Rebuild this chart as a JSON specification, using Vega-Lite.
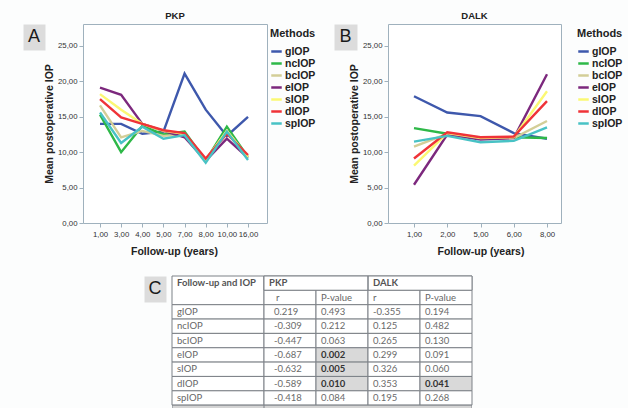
{
  "$schema": "https://vega.github.io/schema/vega-lite/v6.json",
  "background": "#fcfdfd",
  "padding": {"left": 22, "top": 10, "right": 0, "bottom": 0},
  "spacing": 16,
  "datasets": {
    "pkp": [
      {"year": 1, "method": "gIOP", "iop": 14.0}, {"year": 3, "method": "gIOP", "iop": 14.0}, {"year": 4, "method": "gIOP", "iop": 12.6}, {"year": 5, "method": "gIOP", "iop": 12.9}, {"year": 7, "method": "gIOP", "iop": 21.1}, {"year": 8, "method": "gIOP", "iop": 16.0}, {"year": 10, "method": "gIOP", "iop": 12.3}, {"year": 16, "method": "gIOP", "iop": 15.0},
      {"year": 1, "method": "ncIOP", "iop": 15.3}, {"year": 3, "method": "ncIOP", "iop": 10.0}, {"year": 4, "method": "ncIOP", "iop": 13.7}, {"year": 5, "method": "ncIOP", "iop": 12.5}, {"year": 7, "method": "ncIOP", "iop": 12.9}, {"year": 8, "method": "ncIOP", "iop": 8.8}, {"year": 10, "method": "ncIOP", "iop": 13.6}, {"year": 16, "method": "ncIOP", "iop": 9.3},
      {"year": 1, "method": "bcIOP", "iop": 16.6}, {"year": 3, "method": "bcIOP", "iop": 12.1}, {"year": 4, "method": "bcIOP", "iop": 13.0}, {"year": 5, "method": "bcIOP", "iop": 12.3}, {"year": 7, "method": "bcIOP", "iop": 12.5}, {"year": 8, "method": "bcIOP", "iop": 8.9}, {"year": 10, "method": "bcIOP", "iop": 13.0}, {"year": 16, "method": "bcIOP", "iop": 9.3},
      {"year": 1, "method": "eIOP", "iop": 19.1}, {"year": 3, "method": "eIOP", "iop": 18.1}, {"year": 4, "method": "eIOP", "iop": 14.0}, {"year": 5, "method": "eIOP", "iop": 13.0}, {"year": 7, "method": "eIOP", "iop": 12.1}, {"year": 8, "method": "eIOP", "iop": 8.8}, {"year": 10, "method": "eIOP", "iop": 11.9}, {"year": 16, "method": "eIOP", "iop": 9.2},
      {"year": 1, "method": "sIOP", "iop": 18.2}, {"year": 3, "method": "sIOP", "iop": 16.0}, {"year": 4, "method": "sIOP", "iop": 14.0}, {"year": 5, "method": "sIOP", "iop": 13.0}, {"year": 7, "method": "sIOP", "iop": 12.6}, {"year": 8, "method": "sIOP", "iop": 8.9}, {"year": 10, "method": "sIOP", "iop": 13.0}, {"year": 16, "method": "sIOP", "iop": 9.3},
      {"year": 1, "method": "dIOP", "iop": 17.5}, {"year": 3, "method": "dIOP", "iop": 14.9}, {"year": 4, "method": "dIOP", "iop": 14.0}, {"year": 5, "method": "dIOP", "iop": 13.1}, {"year": 7, "method": "dIOP", "iop": 12.7}, {"year": 8, "method": "dIOP", "iop": 9.1}, {"year": 10, "method": "dIOP", "iop": 12.6}, {"year": 16, "method": "dIOP", "iop": 9.6},
      {"year": 1, "method": "spIOP", "iop": 15.6}, {"year": 3, "method": "spIOP", "iop": 11.3}, {"year": 4, "method": "spIOP", "iop": 13.6}, {"year": 5, "method": "spIOP", "iop": 11.9}, {"year": 7, "method": "spIOP", "iop": 12.4}, {"year": 8, "method": "spIOP", "iop": 8.5}, {"year": 10, "method": "spIOP", "iop": 12.9}, {"year": 16, "method": "spIOP", "iop": 8.9}
    ],
    "dalk": [
      {"year": 1, "method": "gIOP", "iop": 17.9}, {"year": 2, "method": "gIOP", "iop": 15.6}, {"year": 5, "method": "gIOP", "iop": 15.1}, {"year": 6, "method": "gIOP", "iop": 12.7}, {"year": 8, "method": "gIOP", "iop": 11.9},
      {"year": 1, "method": "ncIOP", "iop": 13.4}, {"year": 2, "method": "ncIOP", "iop": 12.6}, {"year": 5, "method": "ncIOP", "iop": 12.0}, {"year": 6, "method": "ncIOP", "iop": 12.1}, {"year": 8, "method": "ncIOP", "iop": 12.0},
      {"year": 1, "method": "bcIOP", "iop": 10.8}, {"year": 2, "method": "bcIOP", "iop": 12.6}, {"year": 5, "method": "bcIOP", "iop": 11.9}, {"year": 6, "method": "bcIOP", "iop": 12.0}, {"year": 8, "method": "bcIOP", "iop": 14.4},
      {"year": 1, "method": "eIOP", "iop": 5.4}, {"year": 2, "method": "eIOP", "iop": 12.5}, {"year": 5, "method": "eIOP", "iop": 11.8}, {"year": 6, "method": "eIOP", "iop": 12.0}, {"year": 8, "method": "eIOP", "iop": 21.0},
      {"year": 1, "method": "sIOP", "iop": 8.1}, {"year": 2, "method": "sIOP", "iop": 12.7}, {"year": 5, "method": "sIOP", "iop": 12.0}, {"year": 6, "method": "sIOP", "iop": 12.1}, {"year": 8, "method": "sIOP", "iop": 18.6},
      {"year": 1, "method": "dIOP", "iop": 9.1}, {"year": 2, "method": "dIOP", "iop": 12.8}, {"year": 5, "method": "dIOP", "iop": 12.1}, {"year": 6, "method": "dIOP", "iop": 12.2}, {"year": 8, "method": "dIOP", "iop": 17.2},
      {"year": 1, "method": "spIOP", "iop": 11.5}, {"year": 2, "method": "spIOP", "iop": 12.3}, {"year": 5, "method": "spIOP", "iop": 11.4}, {"year": 6, "method": "spIOP", "iop": 11.6}, {"year": 8, "method": "spIOP", "iop": 13.5}
    ],
    "table": [
      {"method": "gIOP", "pkp_r": 0.219, "pkp_p": 0.493, "dalk_r": -0.355, "dalk_p": 0.194},
      {"method": "ncIOP", "pkp_r": -0.309, "pkp_p": 0.212, "dalk_r": 0.125, "dalk_p": 0.482},
      {"method": "bcIOP", "pkp_r": -0.447, "pkp_p": 0.063, "dalk_r": 0.265, "dalk_p": 0.130},
      {"method": "eIOP", "pkp_r": -0.687, "pkp_p": 0.002, "dalk_r": 0.299, "dalk_p": 0.091},
      {"method": "sIOP", "pkp_r": -0.632, "pkp_p": 0.005, "dalk_r": 0.326, "dalk_p": 0.060},
      {"method": "dIOP", "pkp_r": -0.589, "pkp_p": 0.010, "dalk_r": 0.353, "dalk_p": 0.041},
      {"method": "spIOP", "pkp_r": -0.418, "pkp_p": 0.084, "dalk_r": 0.195, "dalk_p": 0.268}
    ],
    "hdr": [
      {"method": "h1", "key": "pkp_r", "label": "PKP"},
      {"method": "h1", "key": "dalk_r", "label": "DALK"},
      {"method": "h2", "key": "pkp_r", "label": "r"},
      {"method": "h2", "key": "pkp_p", "label": "P-value"},
      {"method": "h2", "key": "dalk_r", "label": "r"},
      {"method": "h2", "key": "dalk_p", "label": "P-value"}
    ]
  },
  "config": {
    "font": "Liberation Sans",
    "locale": {"number": {"decimal": ".", "thousands": ",", "grouping": [3], "currency": ["", ""], "minus": "-"}},
    "axis": {"labelFont": "Liberation Sans", "labelFontSize": 7.8, "labelColor": "#333333", "titleFont": "Liberation Sans", "titleFontSize": 10.5, "titleFontWeight": "bold", "titleColor": "#222222", "tickColor": "#9fb1bd", "tickSize": 4, "domain": false, "grid": false, "labelPadding": 2},
    "legend": {"titleFont": "Liberation Sans", "titleFontSize": 11, "titleFontWeight": "bold", "titleColor": "#222222", "labelFont": "Liberation Sans", "labelFontSize": 10.5, "labelFontWeight": "bold", "labelColor": "#222222", "symbolType": "stroke", "symbolStrokeWidth": 2.5, "symbolSize": 110, "rowPadding": -1.8, "labelOffset": 2, "titlePadding": 6, "padding": 4, "offset": 0},
    "title": {"font": "Liberation Sans", "fontSize": 9.5, "fontWeight": "bold", "color": "#222222", "offset": 4}
  },
  "vconcat": [
    {
      "hconcat": [
        {"width": 22, "height": 26, "view": {"fill": "#dcdcdc", "stroke": "transparent"}, "data": {"values": [{"panel": "A"}]}, "mark": {"type": "text", "fontSize": 18, "font": "Liberation Sans", "color": "#1a1a1a", "baseline": "middle", "align": "center"}, "encoding": {"text": {"field": "panel"}}},
        {"width": 38, "height": 10, "view": {"stroke": "transparent"}, "data": {"values": [{}]}, "mark": {"type": "text"}, "encoding": {}},
        {
          "width": 184, "height": 199,
          "title": {"text": "PKP"},
          "view": {"stroke": "#9fb1bd", "fill": "#ffffff"},
          "data": {"name": "pkp"},
          "mark": {"type": "line", "strokeWidth": 2.4},
          "encoding": {
            "x": {"field": "year", "type": "ordinal", "scale": {"type": "point", "range": [17, 165], "padding": 0}, "axis": {"title": "Follow-up (years)", "labelAngle": 0, "labelPadding": 3, "labelExpr": "replace(format(datum.value, '.2f'), '.', ',')", "titlePadding": 9}},
            "y": {"field": "iop", "type": "quantitative", "scale": {"domain": [0, 28.1], "nice": false}, "axis": {"title": "Mean postoperative IOP", "values": [0, 5, 10, 15, 20, 25], "labelExpr": "replace(format(datum.value, '.2f'), '.', ',')", "titlePadding": 3}},
            "color": {"field": "method", "type": "nominal", "scale": {"domain": ["gIOP", "ncIOP", "bcIOP", "eIOP", "sIOP", "dIOP", "spIOP"], "range": ["#3e58ac", "#2eb848", "#d3ce97", "#7c287d", "#fbf873", "#ef3338", "#48c2c5"]}, "legend": {"title": "Methods", "offset": -1}}
          }
        },
        {"width": 67, "height": 10, "view": {"stroke": "transparent"}, "data": {"values": [{}]}, "mark": {"type": "text"}, "encoding": {}},
        {"width": 23, "height": 26, "view": {"fill": "#dcdcdc", "stroke": "transparent"}, "data": {"values": [{"panel": "B"}]}, "mark": {"type": "text", "fontSize": 18, "font": "Liberation Sans", "color": "#1a1a1a", "baseline": "middle", "align": "center"}, "encoding": {"text": {"field": "panel"}}},
        {"width": 31, "height": 10, "view": {"stroke": "transparent"}, "data": {"values": [{}]}, "mark": {"type": "text"}, "encoding": {}},
        {
          "width": 173, "height": 199,
          "title": {"text": "DALK"},
          "view": {"stroke": "#9fb1bd", "fill": "#ffffff"},
          "data": {"name": "dalk"},
          "mark": {"type": "line", "strokeWidth": 2.4},
          "encoding": {
            "x": {"field": "year", "type": "ordinal", "scale": {"type": "point", "range": [26, 159], "padding": 0}, "axis": {"title": "Follow-up (years)", "labelAngle": 0, "labelPadding": 3, "labelExpr": "replace(format(datum.value, '.2f'), '.', ',')", "titlePadding": 9}},
            "y": {"field": "iop", "type": "quantitative", "scale": {"domain": [0, 28.1], "nice": false}, "axis": {"title": "Mean postoperative IOP", "values": [0, 5, 10, 15, 20, 25], "labelExpr": "replace(format(datum.value, '.2f'), '.', ',')", "titlePadding": 3}},
            "color": {"field": "method", "type": "nominal", "scale": {"domain": ["gIOP", "ncIOP", "bcIOP", "eIOP", "sIOP", "dIOP", "spIOP"], "range": ["#3e58ac", "#2eb848", "#d3ce97", "#7c287d", "#fbf873", "#ef3338", "#48c2c5"]}, "legend": {"title": "Methods", "offset": 12}}
          }
        }
      ],
      "spacing": 0,
      "bounds": "flush",
      "resolve": {"scale": {"x": "independent", "y": "independent", "color": "independent"}, "legend": {"color": "independent"}, "axis": {"x": "independent", "y": "independent"}}
    },
    {
      "hconcat": [
        {"width": 121, "height": 10, "view": {"stroke": "transparent"}, "data": {"values": [{}]}, "mark": {"type": "text"}, "encoding": {}},
        {"width": 22, "height": 26, "view": {"fill": "#dcdcdc", "stroke": "transparent"}, "data": {"values": [{"panel": "C"}]}, "mark": {"type": "text", "fontSize": 18, "font": "Liberation Sans", "color": "#1a1a1a", "baseline": "middle", "align": "center"}, "encoding": {"text": {"field": "panel"}}},
        {"width": 6, "height": 10, "view": {"stroke": "transparent"}, "data": {"values": [{}]}, "mark": {"type": "text"}, "encoding": {}},
        {
          "width": 92, "height": 134,
          "view": {"stroke": "transparent"},
          "layer": [
            {"data": {"values": [{"method": "h1", "end": "gIOP"}]}, "mark": {"type": "rect", "fill": "#ffffff", "stroke": "#7d8187", "strokeWidth": 1},
             "encoding": {"y": {"field": "method", "type": "nominal", "axis": null, "bandPosition": 0, "scale": {"type": "band", "domain": ["h1", "h2", "gIOP", "ncIOP", "bcIOP", "eIOP", "sIOP", "dIOP", "spIOP", "next"], "range": [0, 143.5], "paddingInner": 0, "paddingOuter": 0}}, "y2": {"field": "end", "bandPosition": 0}}},
            {"data": {"name": "table"}, "mark": {"type": "rect", "fill": "#ffffff", "stroke": "#7d8187", "strokeWidth": 1},
             "encoding": {"y": {"field": "method", "type": "nominal", "axis": null}}},
            {"data": {"values": [{"method": "next"}]}, "mark": {"type": "rect", "fill": "#d4d4d4", "stroke": "#7d8187", "strokeWidth": 1, "clip": true},
             "encoding": {"y": {"field": "method", "type": "nominal", "axis": null}}},
            {"data": {"values": [{"method": "h1", "label": "Follow-up and IOP"}]}, "mark": {"type": "text", "align": "left", "baseline": "middle", "dx": -41, "font": "Lato", "fontSize": 9.5, "fontWeight": "bold", "color": "#555555"},
             "encoding": {"y": {"field": "method", "type": "nominal", "axis": null}, "text": {"field": "label"}}},
            {"data": {"name": "table"}, "mark": {"type": "text", "align": "left", "baseline": "middle", "dx": -41, "font": "Lato", "fontSize": 9.5, "color": "#666666"},
             "encoding": {"y": {"field": "method", "type": "nominal", "axis": null}, "text": {"field": "method"}}}
          ]
        },
        {
          "width": 208, "height": 134,
          "view": {"stroke": "transparent"},
          "layer": [
            {"data": {"name": "hdr"}, "transform": [{"filter": "datum.method == 'h1'"}], "mark": {"type": "rect", "fill": "#ffffff", "stroke": "#7d8187", "strokeWidth": 1},
             "encoding": {"y": {"field": "method", "type": "nominal", "axis": null, "scale": {"type": "band", "domain": ["h1", "h2", "gIOP", "ncIOP", "bcIOP", "eIOP", "sIOP", "dIOP", "spIOP", "next"], "range": [0, 143.5], "paddingInner": 0, "paddingOuter": 0}}}},
            {"data": {"name": "hdr"}, "transform": [{"filter": "datum.label == 'DALK'"}], "mark": {"type": "rect", "fill": "#ffffff", "stroke": "#7d8187", "strokeWidth": 1},
             "encoding": {"x": {"field": "key", "type": "nominal", "axis": null, "bandPosition": 0, "scale": {"type": "band", "domain": ["pkp_r", "pkp_p", "dalk_r", "dalk_p"], "paddingInner": 0, "paddingOuter": 0}}, "x2": {"field": "key", "bandPosition": 0}, "y": {"field": "method", "type": "nominal", "axis": null}}},
            {"data": {"name": "hdr"}, "transform": [{"filter": "datum.method == 'h2'"}], "mark": {"type": "rect", "fill": "#ffffff", "stroke": "#7d8187", "strokeWidth": 1},
             "encoding": {"x": {"field": "key", "type": "nominal", "axis": null}, "y": {"field": "method", "type": "nominal", "axis": null}}},
            {"data": {"name": "table"}, "transform": [{"fold": ["pkp_r", "pkp_p", "dalk_r", "dalk_p"]}], "mark": {"type": "rect", "stroke": "#7d8187", "strokeWidth": 1},
             "encoding": {"x": {"field": "key", "type": "nominal", "axis": null}, "y": {"field": "method", "type": "nominal", "axis": null},
               "fill": {"condition": {"test": "(datum.key == 'pkp_p' || datum.key == 'dalk_p') && datum.value < 0.05", "value": "#d9d9d9"}, "value": "#ffffff"}}},
            {"data": {"values": [{"method": "next"}]}, "mark": {"type": "rect", "fill": "#d4d4d4", "stroke": "#7d8187", "strokeWidth": 1, "clip": true},
             "encoding": {"y": {"field": "method", "type": "nominal", "axis": null}}},
            {"data": {"name": "hdr"}, "transform": [{"filter": "datum.method == 'h1'"}], "mark": {"type": "text", "align": "left", "baseline": "middle", "dx": 5, "font": "Lato", "fontSize": 9.5, "fontWeight": "bold", "color": "#555555"},
             "encoding": {"x": {"field": "key", "type": "nominal", "axis": null, "bandPosition": 0}, "y": {"field": "method", "type": "nominal", "axis": null}, "text": {"field": "label"}}},
            {"data": {"name": "hdr"}, "transform": [{"filter": "datum.method == 'h2' && datum.key != 'pkp_r'"}], "mark": {"type": "text", "align": "left", "baseline": "middle", "dx": 5, "font": "Lato", "fontSize": 9.5, "color": "#666666"},
             "encoding": {"x": {"field": "key", "type": "nominal", "axis": null, "bandPosition": 0}, "y": {"field": "method", "type": "nominal", "axis": null}, "text": {"field": "label"}}},
            {"data": {"name": "hdr"}, "transform": [{"filter": "datum.method == 'h2' && datum.key == 'pkp_r'"}], "mark": {"type": "text", "align": "left", "baseline": "middle", "dx": 12, "font": "Lato", "fontSize": 9.5, "color": "#666666"},
             "encoding": {"x": {"field": "key", "type": "nominal", "axis": null, "bandPosition": 0}, "y": {"field": "method", "type": "nominal", "axis": null}, "text": {"field": "label"}}},
            {"data": {"name": "table"}, "transform": [{"fold": ["pkp_r", "pkp_p", "dalk_r", "dalk_p"]}, {"filter": "datum.key != 'pkp_r' && !((datum.key == 'pkp_p' || datum.key == 'dalk_p') && datum.value < 0.05)"}], "mark": {"type": "text", "align": "left", "baseline": "middle", "dx": 5, "font": "Lato", "fontSize": 9.5, "color": "#6a6a6a"},
             "encoding": {"x": {"field": "key", "type": "nominal", "axis": null, "bandPosition": 0}, "y": {"field": "method", "type": "nominal", "axis": null}, "text": {"field": "value", "type": "quantitative", "format": ".3f"}}},
            {"data": {"name": "table"}, "transform": [{"fold": ["pkp_r", "pkp_p", "dalk_r", "dalk_p"]}, {"filter": "datum.key == 'pkp_r'"}], "mark": {"type": "text", "align": "left", "baseline": "middle", "dx": 10, "font": "Lato", "fontSize": 9.5, "color": "#6a6a6a"},
             "encoding": {"x": {"field": "key", "type": "nominal", "axis": null, "bandPosition": 0}, "y": {"field": "method", "type": "nominal", "axis": null}, "text": {"field": "value", "type": "quantitative", "format": ".3f"}}},
            {"data": {"name": "table"}, "transform": [{"fold": ["pkp_r", "pkp_p", "dalk_r", "dalk_p"]}, {"filter": "(datum.key == 'pkp_p' || datum.key == 'dalk_p') && datum.value < 0.05"}], "mark": {"type": "text", "align": "left", "baseline": "middle", "dx": 5, "font": "Lato", "fontSize": 9.5, "fontWeight": "bold", "color": "#333333"},
             "encoding": {"x": {"field": "key", "type": "nominal", "axis": null, "bandPosition": 0}, "y": {"field": "method", "type": "nominal", "axis": null}, "text": {"field": "value", "type": "quantitative", "format": ".3f"}}}
          ]
        }
      ],
      "spacing": 0,
      "bounds": "flush",
      "resolve": {"scale": {"x": "independent", "y": "independent"}}
    }
  ]
}
